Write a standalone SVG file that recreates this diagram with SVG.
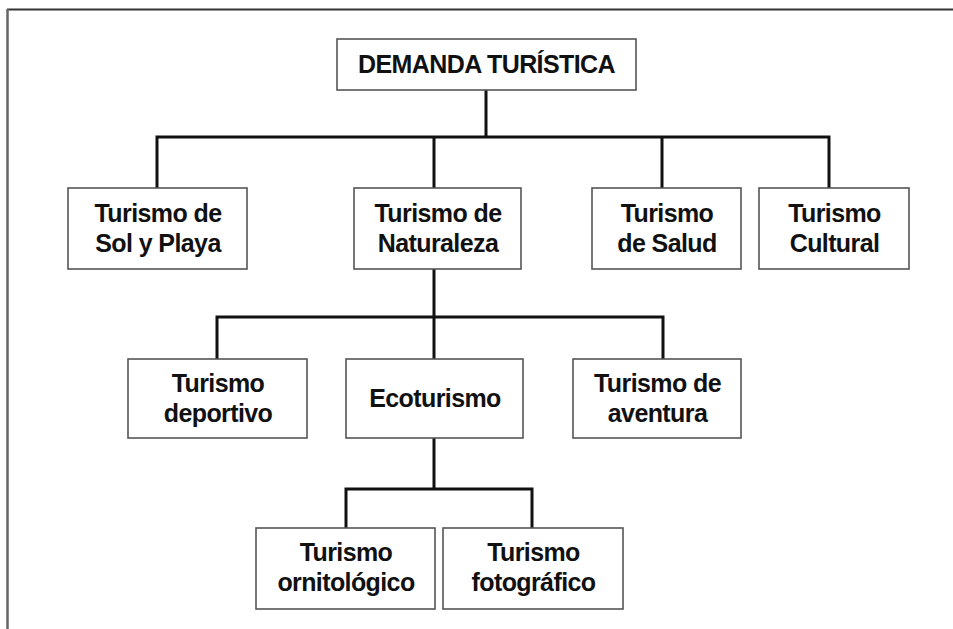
<svg xmlns="http://www.w3.org/2000/svg" width="953" height="629" viewBox="0 0 953 629">
<style>
.box{fill:#fff;stroke:#555;stroke-width:1.6}
.t{font-family:"Liberation Sans",Arial,sans-serif;font-weight:bold;font-size:25px;letter-spacing:-0.6px;fill:#111;text-anchor:middle}
.c{fill:none;stroke:#111;stroke-width:3}
</style>
<rect width="953" height="629" fill="#fff"/>
<g id="frame">
<line x1="7" y1="9.5" x2="953" y2="9.5" stroke="#333" stroke-width="2"/>
<line x1="7.5" y1="9" x2="7.5" y2="629" stroke="#666" stroke-width="2.5"/>
</g>
<g id="connectors">
<path class="c" d="M486 90V137M157 188V137H829V188M434 137V188M662 137V188"/>
<path class="c" d="M434 269V317M217 359V317H663V359M434 317V359"/>
<path class="c" d="M434 438V489M346 528V489H532V528"/>
</g>
<g id="demanda"><rect class="box" x="337" y="39" width="299" height="51"/><text class="t" x="486.5" y="73">DEMANDA TURÍSTICA</text></g>
<g id="sol"><rect class="box" x="68" y="188" width="179" height="81"/><text class="t" x="158" y="222">Turismo de</text><text class="t" x="158" y="252">Sol y Playa</text></g>
<g id="naturaleza"><rect class="box" x="354" y="188" width="167" height="81"/><text class="t" x="438" y="222">Turismo de</text><text class="t" x="438" y="252">Naturaleza</text></g>
<g id="salud"><rect class="box" x="592" y="188" width="149" height="81"/><text class="t" x="667" y="222">Turismo</text><text class="t" x="667" y="252">de Salud</text></g>
<g id="cultural"><rect class="box" x="759" y="188" width="150" height="81"/><text class="t" x="834.5" y="222">Turismo</text><text class="t" x="834.5" y="252">Cultural</text></g>
<g id="deportivo"><rect class="box" x="128" y="359" width="179" height="79"/><text class="t" x="218" y="392">Turismo</text><text class="t" x="218" y="422">deportivo</text></g>
<g id="ecoturismo"><rect class="box" x="346" y="359" width="177" height="79"/><text class="t" x="435" y="407">Ecoturismo</text></g>
<g id="aventura"><rect class="box" x="573" y="359" width="168" height="79"/><text class="t" x="657.5" y="392">Turismo de</text><text class="t" x="657.5" y="422">aventura</text></g>
<g id="ornitologico"><rect class="box" x="256" y="528" width="179" height="81"/><text class="t" x="346" y="561">Turismo</text><text class="t" x="346" y="591">ornitológico</text></g>
<g id="fotografico"><rect class="box" x="443" y="528" width="180" height="81"/><text class="t" x="533.5" y="561">Turismo</text><text class="t" x="533.5" y="591">fotográfico</text></g>
</svg>
